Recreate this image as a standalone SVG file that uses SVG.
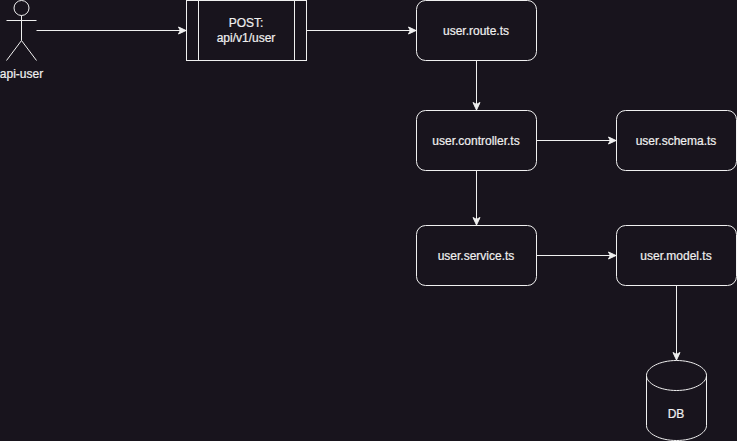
<svg xmlns="http://www.w3.org/2000/svg" width="737" height="441" viewBox="0 0 737 441">
<style>
.s{fill:none;stroke:#f0f0f0;stroke-width:1}
.b{fill:#18141d;stroke:#f0f0f0;stroke-width:1}
.c{fill:none;stroke:#f0f0f0;stroke-width:1}
text{font-family:"Liberation Sans",Arial,sans-serif;font-size:12px;fill:#f0f0f0;text-anchor:middle;font-weight:400;stroke:#f0f0f0;stroke-width:.2}
</style>
<defs>
<marker id="a" markerUnits="userSpaceOnUse" markerWidth="10" markerHeight="10" refX="8.500" refY="4" orient="auto" overflow="visible">
<path d="M0.500 0.500L8 4L0.500 7.500L2.400 4Z" fill="#f0f0f0" stroke="#f0f0f0" stroke-width="1"/>
</marker>
</defs>
<rect width="737" height="441" fill="#18141d"/>
<g id="connectors">
<path class="c" marker-end="url(#a)" d="M36.500 30.500H186.500"/>
<path class="c" marker-end="url(#a)" d="M306.500 30.500H416.500"/>
<path class="c" marker-end="url(#a)" d="M476.500 60.500V110.500"/>
<path class="c" marker-end="url(#a)" d="M536.500 140.500H616.500"/>
<path class="c" marker-end="url(#a)" d="M476.500 170.500V225.500"/>
<path class="c" marker-end="url(#a)" d="M536.500 255.500H616.500"/>
<path class="c" marker-end="url(#a)" d="M676.500 285.500V360.500"/>
</g>
<g id="api-user">
<ellipse class="s" cx="21.500" cy="8" rx="7.500" ry="7.500"/>
<path class="s" d="M21.500 15.500V40.500M6.500 20.500H36.500M21.500 40.500L6.500 60.500M21.500 40.500L36.500 60.500"/>
<text x="21.500" y="78">api-user</text>
</g>
<g id="post">
<rect class="b" x="186.500" y="0.500" width="120" height="60"/>
<path class="s" d="M198.500 0.500V60.500M294.500 0.500V60.500"/>
<text x="246" y="27">POST:</text>
<text x="246" y="42">api/v1/user</text>
</g>
<g id="route"><rect class="b" x="416.500" y="0.500" width="120" height="60" rx="9"/><text x="476" y="34.500">user.route.ts</text></g>
<g id="controller"><rect class="b" x="416.500" y="110.500" width="120" height="60" rx="9"/><text x="476" y="144.500">user.controller.ts</text></g>
<g id="schema"><rect class="b" x="616.500" y="110.500" width="120" height="60" rx="9"/><text x="676" y="144.500">user.schema.ts</text></g>
<g id="service"><rect class="b" x="416.500" y="225.500" width="120" height="60" rx="9"/><text x="476" y="259.500">user.service.ts</text></g>
<g id="model"><rect class="b" x="616.500" y="225.500" width="120" height="60" rx="9"/><text x="676" y="259.500">user.model.ts</text></g>
<g id="db">
<path class="b" d="M646.500 375.500C646.500 367.500 660 360.500 676.500 360.500C693 360.500 706.500 367.500 706.500 375.500V425.500C706.500 433.500 693 440.500 676.500 440.500C660 440.500 646.500 433.500 646.500 425.500Z"/>
<path class="s" d="M646.500 375.500C646.500 383.500 660 390.500 676.500 390.500C693 390.500 706.500 383.500 706.500 375.500"/>
<text x="676" y="417.500">DB</text>
</g>
</svg>
